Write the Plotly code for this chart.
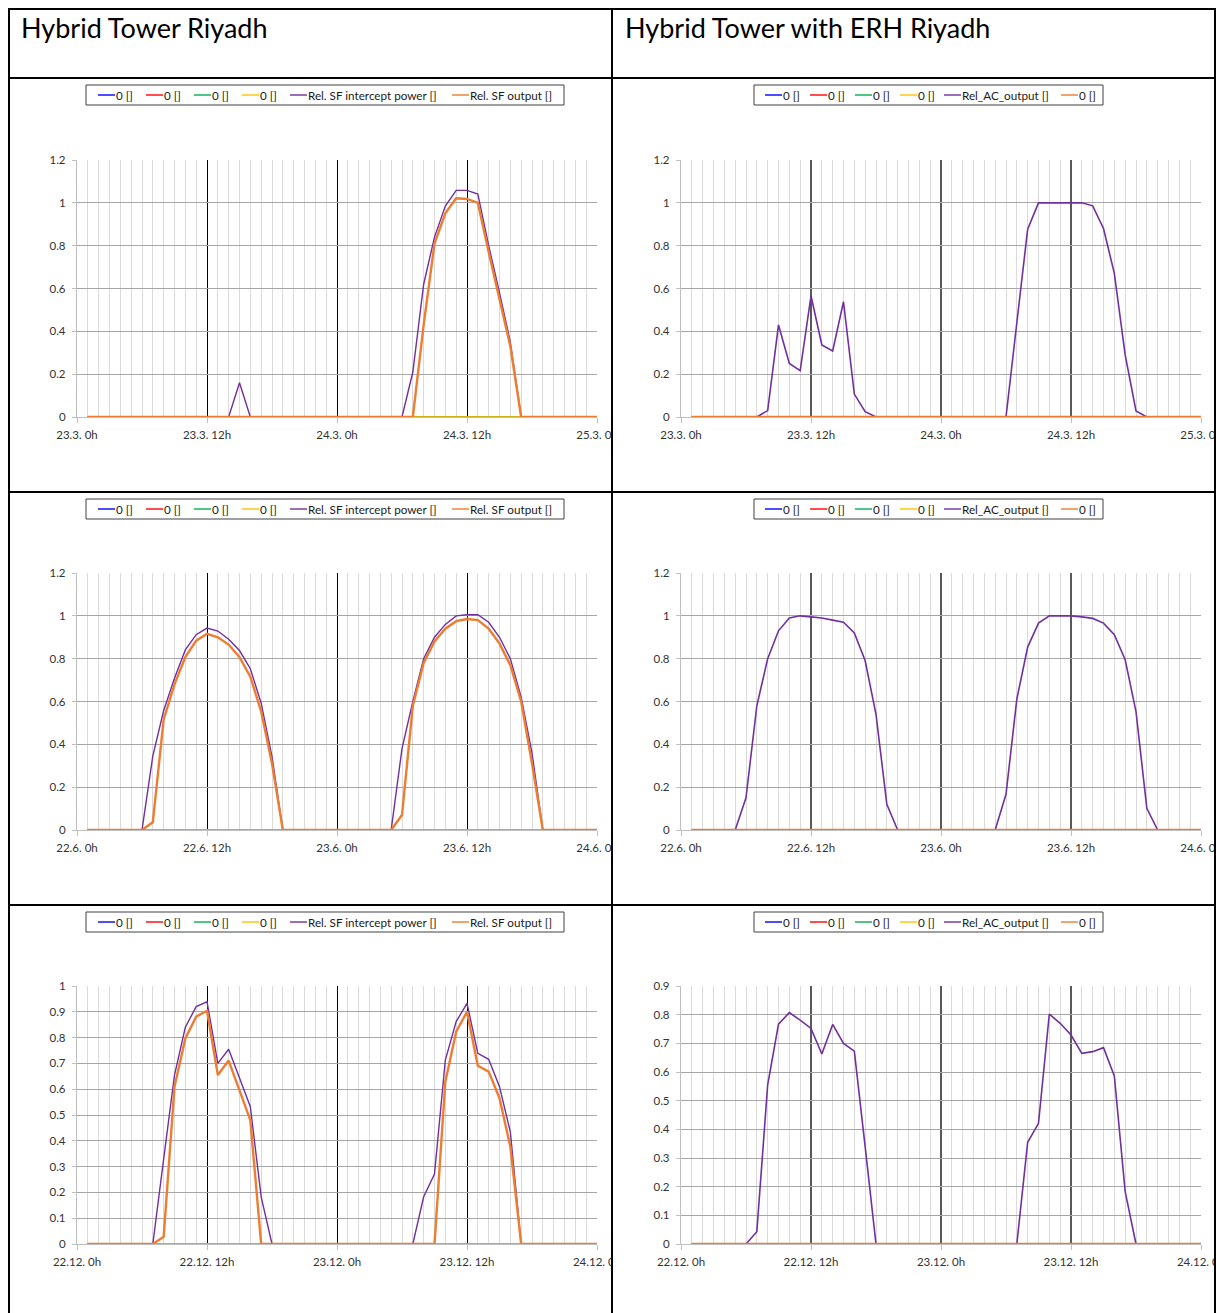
import plotly.graph_objects as go

W, H = 1218, 1313

# ---- data: hourly values, hours 1..48 of a two-day window ----
hours = list(range(1, 49))

zero_series = [0.0] * 48

mar_intercept = [0, 0, 0, 0, 0, 0, 0, 0, 0, 0, 0, 0, 0, 0, 0.16, 0, 0, 0, 0, 0, 0, 0, 0, 0,
                 0, 0, 0, 0, 0, 0, 0.21, 0.62, 0.84, 0.985, 1.058, 1.058, 1.041, 0.80, 0.58, 0.35, 0, 0,
                 0, 0, 0, 0, 0, 0]
mar_sf_output = [0, 0, 0, 0, 0, 0, 0, 0, 0, 0, 0, 0, 0, 0, 0, 0, 0, 0, 0, 0, 0, 0, 0, 0,
                 0, 0, 0, 0, 0, 0, 0, 0.43, 0.81, 0.951, 1.021, 1.018, 1.0, 0.77, 0.55, 0.33, 0, 0,
                 0, 0, 0, 0, 0, 0]
mar_ac_output = [0, 0, 0, 0, 0, 0, 0, 0.03, 0.43, 0.25, 0.216, 0.566, 0.336, 0.308, 0.538, 0.107, 0.025, 0,
                 0, 0, 0, 0, 0, 0, 0, 0, 0, 0, 0, 0, 0.44, 0.877, 1.0, 1.0, 1.0, 1.0, 1.0, 0.986,
                 0.88, 0.671, 0.29, 0.028, 0, 0, 0, 0, 0, 0]

jun_intercept = [0, 0, 0, 0, 0, 0, 0.346, 0.558, 0.709, 0.841, 0.912, 0.943, 0.929, 0.891, 0.838, 0.753, 0.592, 0.343,
                 0, 0, 0, 0, 0, 0, 0, 0, 0, 0, 0, 0.38, 0.60, 0.80, 0.90, 0.96, 1.0, 1.005,
                 1.005, 0.97, 0.90, 0.80, 0.62, 0.36, 0, 0, 0, 0, 0, 0]
jun_sf_output = [0, 0, 0, 0, 0, 0, 0.036, 0.517, 0.68, 0.807, 0.884, 0.916, 0.90, 0.866, 0.807, 0.716, 0.553, 0.31,
                 0, 0, 0, 0, 0, 0, 0, 0, 0, 0, 0, 0.07, 0.58, 0.78, 0.88, 0.94, 0.975, 0.985,
                 0.98, 0.94, 0.87, 0.77, 0.60, 0.31, 0, 0, 0, 0, 0, 0]
jun_ac_output = [0, 0, 0, 0, 0, 0.15, 0.58, 0.80, 0.93, 0.99, 1.0, 0.995, 0.99, 0.98, 0.97, 0.92, 0.79, 0.54,
                 0.12, 0, 0, 0, 0, 0, 0, 0, 0, 0, 0, 0.167, 0.611, 0.854, 0.966, 1.0, 1.0, 1.0,
                 0.995, 0.988, 0.966, 0.912, 0.795, 0.553, 0.101, 0, 0, 0, 0, 0]

dec_intercept = [0, 0, 0, 0, 0, 0, 0, 0.33, 0.655, 0.84, 0.92, 0.939, 0.70, 0.755, 0.643, 0.532, 0.183, 0,
                 0, 0, 0, 0, 0, 0, 0, 0, 0, 0, 0, 0, 0, 0.183, 0.271, 0.713, 0.862, 0.933,
                 0.739, 0.716, 0.61, 0.435, 0, 0, 0, 0, 0, 0, 0, 0]
dec_sf_output = [0, 0, 0, 0, 0, 0, 0, 0.028, 0.61, 0.797, 0.881, 0.904, 0.655, 0.711, 0.597, 0.48, 0, 0,
                 0, 0, 0, 0, 0, 0, 0, 0, 0, 0, 0, 0, 0, 0, 0, 0.629, 0.823, 0.90,
                 0.691, 0.668, 0.565, 0.377, 0, 0, 0, 0, 0, 0, 0, 0]
dec_ac_output = [0, 0, 0, 0, 0, 0, 0.043, 0.555, 0.767, 0.807, 0.781, 0.752, 0.663, 0.766, 0.70, 0.673, 0.339, 0,
                 0, 0, 0, 0, 0, 0, 0, 0, 0, 0, 0, 0, 0, 0.355, 0.421, 0.802, 0.77, 0.729,
                 0.665, 0.671, 0.685, 0.586, 0.183, 0, 0, 0, 0, 0, 0, 0]

tick_hours = [0, 12, 24, 36, 48]
mar_ticks = ["23.3. 0h", "23.3. 12h", "24.3. 0h", "24.3. 12h", "25.3. 0h"]
jun_ticks = ["22.6. 0h", "22.6. 12h", "23.6. 0h", "23.6. 12h", "24.6. 0h"]
dec_ticks = ["22.12. 0h", "22.12. 12h", "23.12. 0h", "23.12. 12h", "24.12. 0h"]

y_ticks_12 = [0, 0.2, 0.4, 0.6, 0.8, 1.0, 1.2]
y_labels_12 = ["0", "0.2", "0.4", "0.6", "0.8", "1", "1.2"]
y_ticks_10 = [0, 0.1, 0.2, 0.3, 0.4, 0.5, 0.6, 0.7, 0.8, 0.9, 1.0]
y_labels_10 = ["0", "0.1", "0.2", "0.3", "0.4", "0.5", "0.6", "0.7", "0.8", "0.9", "1"]
y_ticks_09 = [0, 0.1, 0.2, 0.3, 0.4, 0.5, 0.6, 0.7, 0.8, 0.9]
y_labels_09 = ["0", "0.1", "0.2", "0.3", "0.4", "0.5", "0.6", "0.7", "0.8", "0.9"]

titles = ["Hybrid Tower Riyadh", "Hybrid Tower with ERH Riyadh"]
left_names = ["0 []", "0 []", "0 []", "0 []", "Rel. SF intercept power []", "Rel. SF output []"]
right_names = ["0 []", "0 []", "0 []", "0 []", "Rel_AC_output []", "0 []"]

BLUE, RED, GREEN, YELLOW, PURPLE, ORANGE = "#0000ff", "#ff0000", "#00b050", "#ffc000", "#7030a0", "#ed7d31"
series_colors = [BLUE, RED, GREEN, YELLOW, PURPLE, ORANGE]

FONT = "Lato"
TXT = "#333333"


def px(xp):
    return xp / W


def py(yp):
    return 1 - yp / H


# plot-area pixel boxes per cell: (left, right, top, bottom)
col_x = [(77, 597), (681, 1201)]
row_y = [(160, 417), (573, 830), (986, 1244)]
legend_top = [85, 499, 912]

cells = [
    # (row, col, series lists, tick labels, y ticks, y labels, ymax)
    (0, 0, [zero_series] * 4 + [mar_intercept, mar_sf_output], mar_ticks, y_ticks_12, y_labels_12, 1.2),
    (0, 1, [zero_series] * 4 + [mar_ac_output, zero_series], mar_ticks, y_ticks_12, y_labels_12, 1.2),
    (1, 0, [zero_series] * 4 + [jun_intercept, jun_sf_output], jun_ticks, y_ticks_12, y_labels_12, 1.2),
    (1, 1, [zero_series] * 4 + [jun_ac_output, zero_series], jun_ticks, y_ticks_12, y_labels_12, 1.2),
    (2, 0, [zero_series] * 4 + [dec_intercept, dec_sf_output], dec_ticks, y_ticks_10, y_labels_10, 1.0),
    (2, 1, [zero_series] * 4 + [dec_ac_output, zero_series], dec_ticks, y_ticks_09, y_labels_09, 0.9),
]

fig = go.Figure()
layout = dict(
    width=W, height=H, margin=dict(l=0, r=0, t=0, b=0, pad=0, autoexpand=False),
    paper_bgcolor="white", plot_bgcolor="white", showlegend=False,
    font=dict(family=FONT, size=11, color=TXT),
)
shapes = []
annotations = []

for i, (r, c, series, xt, yt, yl, ymax) in enumerate(cells):
    n = "" if i == 0 else str(i + 1)
    x0, x1 = col_x[c]
    y0, y1 = row_y[r]
    names = left_names if c == 0 else right_names
    for k, (vals, name, col) in enumerate(zip(series, names, series_colors)):
        if c == 0:
            lw = 2.4 if k == 5 else 1.4
        else:
            lw = 2.6 if k == 5 else 1.6
        fig.add_trace(go.Scatter(
            x=hours, y=vals, name=name, mode="lines", cliponaxis=False,
            line=dict(color=col, width=lw), xaxis="x" + n, yaxis="y" + n,
            hoverinfo="skip"))

    layout["xaxis" + n] = dict(
        domain=[px(x0), px(x1)], anchor="y" + n, range=[0, 48], automargin=False,
        tickmode="array", tickvals=tick_hours, ticktext=xt, ticklabeloverflow="allow",
        showgrid=True,
        gridcolor="#000000" if c == 0 else "#595959",
        gridwidth=1 if c == 0 else 1.6,
        minor=dict(dtick=1, tick0=0, showgrid=True, gridcolor="#dadada", gridwidth=1),
        showline=True, linecolor="#bfbfbf", linewidth=1.3,
        ticks="outside", ticklen=5, tickcolor="#bfbfbf", tickwidth=1,
        ticklabelstandoff=2,
        zeroline=False, layer="below traces", fixedrange=True,
        tickfont=dict(family=FONT, size=11.5, color=TXT),
    )
    layout["yaxis" + n] = dict(
        domain=[py(y1), py(y0)], anchor="x" + n, range=[0, ymax], automargin=False,
        tickmode="array", tickvals=yt, ticktext=yl,
        showgrid=True, gridcolor="#a6a6a6", gridwidth=1.3,
        showline=True, linecolor="#bfbfbf", linewidth=1.3,
        ticks="outside", ticklen=4, tickcolor="#bfbfbf",
        ticklabelstandoff=4,
        zeroline=False, layer="below traces", fixedrange=True,
        tickfont=dict(family=FONT, size=11.5, color=TXT),
    )

# ---- legends drawn as boxed rows of line keys ----
legend_specs = {
    0: dict(box=(86, 564), items=[(98, left_names[0]), (146, left_names[1]), (194, left_names[2]),
                                   (242, left_names[3]), (290, left_names[4]), (452, left_names[5])]),
    1: dict(box=(754, 1103), items=[(765, right_names[0]), (810, right_names[1]), (855, right_names[2]),
                                     (900, right_names[3]), (944, right_names[4]), (1061, right_names[5])]),
}
for r in range(3):
    top = legend_top[r]
    bot = top + 20
    mid = (top + bot) / 2
    for c in range(2):
        spec = legend_specs[c]
        bx0, bx1 = spec["box"]
        shapes.append(dict(type="rect", xref="paper", yref="paper", x0=px(bx0), x1=px(bx1),
                           y0=py(bot), y1=py(top), line=dict(color="#404040", width=1),
                           fillcolor="white", layer="above"))
        for (lx, label), col in zip(spec["items"], series_colors):
            shapes.append(dict(type="line", xref="paper", yref="paper", x0=px(lx), x1=px(lx + 17),
                               y0=py(mid), y1=py(mid), line=dict(color=col, width=1.4), layer="above"))
            annotations.append(dict(text=label, xref="paper", yref="paper", x=px(lx + 16), y=py(mid),
                                    xanchor="left", yanchor="middle", showarrow=False,
                                    font=dict(family=FONT, size=11.7, color="#1a1a1a")))

# ---- table frame with header row ----
annotations.append(dict(text=titles[0], xref="paper", yref="paper", x=px(19), y=py(28),
                        xanchor="left", yanchor="middle", showarrow=False,
                        font=dict(family=FONT, size=27, color="#000000")))
annotations.append(dict(text=titles[1], xref="paper", yref="paper", x=px(623), y=py(28),
                        xanchor="left", yanchor="middle", showarrow=False,
                        font=dict(family=FONT, size=27, color="#000000")))

# white masks so the tick labels stop at the cell borders
for (y0, y1) in row_y:
    shapes.append(dict(type="rect", xref="paper", yref="paper", x0=px(613), x1=px(640),
                       y0=py(y1 + 30), y1=py(y1 + 5), line=dict(width=0), fillcolor="white", layer="above"))
    shapes.append(dict(type="rect", xref="paper", yref="paper", x0=px(1216), x1=px(1218),
                       y0=py(y1 + 30), y1=py(y1 + 5), line=dict(width=0), fillcolor="white", layer="above"))

frame = dict(color="#000000", width=2)
for yy in [9, 78, 492, 905]:
    shapes.append(dict(type="line", xref="paper", yref="paper", x0=px(8), x1=px(1216),
                       y0=py(yy), y1=py(yy), line=frame, layer="above"))
for xx in [9, 612, 1215]:
    shapes.append(dict(type="line", xref="paper", yref="paper", x0=px(xx), x1=px(xx),
                       y0=py(8), y1=py(1313), line=frame, layer="above"))

layout["shapes"] = shapes
layout["annotations"] = annotations
fig.update_layout(**layout)
fig.write_html("out.html")
